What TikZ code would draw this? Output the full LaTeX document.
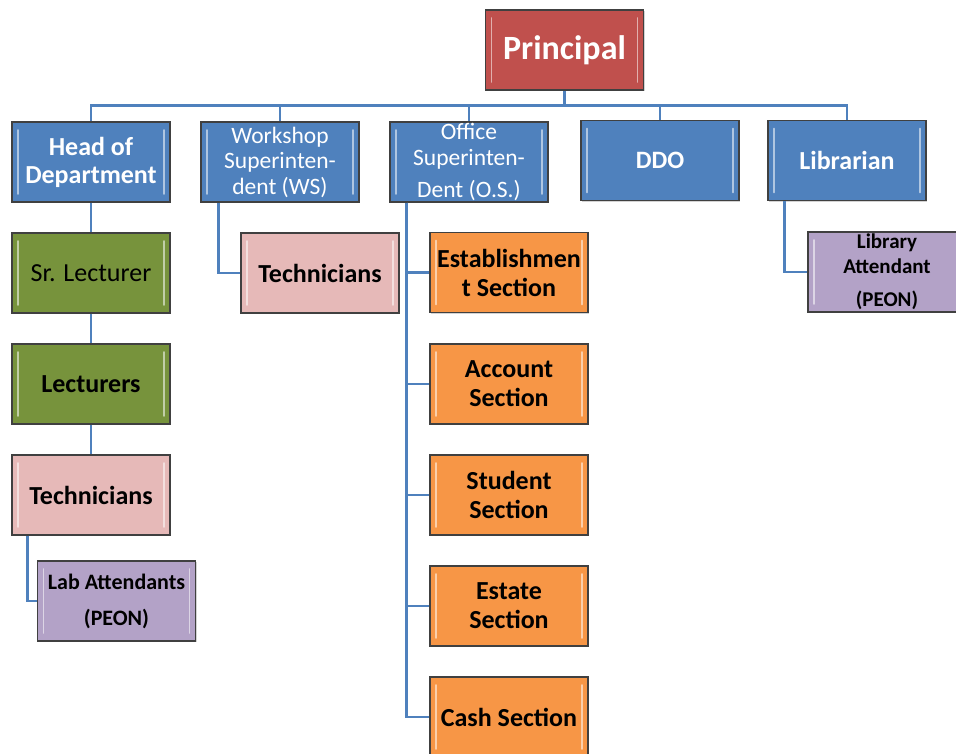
\documentclass[tikz,border=0pt]{standalone}
\usepackage{fontspec}
\setmainfont{Carlito}
\usetikzlibrary{shadows}
\definecolor{ocblue}{HTML}{4F81BD}
\definecolor{ocred}{HTML}{C0504D}
\definecolor{ocgreen}{HTML}{77933C}
\definecolor{ocpink}{HTML}{E6B9B8}
\definecolor{ocorange}{HTML}{F79646}
\definecolor{ocpurple}{HTML}{B3A2C7}
\definecolor{ocedge}{HTML}{404040}

\begin{document}
\begin{tikzpicture}[x=1pt,y=-1pt,
		post/.style={draw=ocedge,line width=1.1pt,minimum width=158pt,minimum height=80pt,
			inner sep=0pt,align=center,
			drop shadow={shadow xshift=1.2pt,shadow yshift=-1.2pt,opacity=.35},
			path picture={
				\draw[white,opacity=.55,line width=1.6pt,line cap=round]
				([xshift=6pt,yshift=-8pt]path picture bounding box.north west) --
				([xshift=6pt,yshift=8pt]path picture bounding box.south west);
				\draw[white,opacity=.55,line width=1.6pt,line cap=round]
				([xshift=-6pt,yshift=-8pt]path picture bounding box.north east) --
				([xshift=-6pt,yshift=8pt]path picture bounding box.south east);}},
		head/.style={post,fill=ocblue,text=white},
		staff/.style={post,text=black,font=\fontsize{26}{29}\selectfont\bfseries},
		link/.style={draw=ocblue,line width=2.2pt}]
			\useasboundingbox (0,0) rectangle (956,754);
			% top of the chart
			\node[post,fill=ocred,text=white,font=\fontsize{34}{36}\selectfont\bfseries] (prin) at (564.5,50) {Principal};
			\node[head,font=\fontsize{26}{28}\selectfont\bfseries] (hod) at (91,162) {Head of\\Department};
			\node[head,font=\fontsize{23.5}{25.5}\selectfont] (ws) at (280,162) {Workshop\\Superinten-\\dent (WS)};
			\node[head,font=\fontsize{23.5}{26}\selectfont] (os) at (469,162) {Office\\Superinten-\\[6pt]Dent (O.S.)};
			\node[head,font=\fontsize{25}{28}\selectfont\bfseries] (ddo) at (660,160.5) {DDO};
			\node[head,font=\fontsize{26}{28}\selectfont\bfseries] (lib) at (847,160.5) {Librarian};
			% head of department
			\node[staff,fill=ocgreen,font=\fontsize{26}{29}\selectfont] (srlec) at (91,273) {Sr. Lecturer};
			\node[staff,fill=ocgreen] (lec) at (91,384) {Lecturers};
			\node[staff,fill=ocpink] (techa) at (91,495) {Technicians};
			\node[staff,fill=ocpurple,font=\fontsize{22}{24}\selectfont\bfseries] (labatt) at (116.5,601) {Lab Attendants\\[12pt](PEON)};
			% workshop
			\node[staff,fill=ocpink] (techb) at (320,273) {Technicians};
			% office
			\node[staff,fill=ocorange] (estab) at (509,272.5) {Establishmen\\t Section};
			\node[staff,fill=ocorange] (acct) at (509,384) {Account\\Section};
			\node[staff,fill=ocorange] (stud) at (509,495) {Student\\Section};
			\node[staff,fill=ocorange] (estate) at (509,606) {Estate\\Section};
			\node[staff,fill=ocorange] (cash) at (509,717) {Cash Section};
			% library
			\node[staff,fill=ocpurple,font=\fontsize{21}{25}\selectfont\bfseries] (libatt) at (887,272) {Library\\Attendant\\[8pt](PEON)};
			% connectors
			\draw[link] (prin.south) -- ++(0,15) coordinate (bus);
			\foreach \n in {hod,ws,os,ddo,lib}
				\draw[link] (bus) -| (\n.north);
			\draw[link] (hod) -- (srlec);
			\draw[link] (srlec) -- (lec);
			\draw[link] (lec) -- (techa);
			\draw[link] ([xshift=16pt]techa.south west) |- (labatt.west);
			\draw[link] ([xshift=18pt]ws.south west) |- (techb.west);
			\foreach \n in {estab,acct,stud,estate,cash}
				\draw[link] ([xshift=17pt]os.south west) |- (\n.west);
			\draw[link] ([xshift=17pt]lib.south west) |- (libatt.west);
		\end{tikzpicture}
\end{document}
